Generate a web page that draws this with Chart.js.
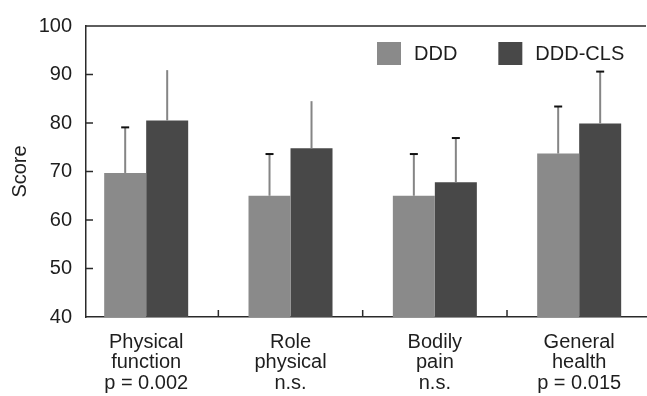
<!DOCTYPE html>
<html>
<head>
<meta charset="utf-8">
<script src="https://cdn.jsdelivr.net/npm/chart.js@4/dist/chart.umd.min.js"></script>
<style>
  html, body { margin: 0; padding: 0; background: #fff; }
  #wrap { width: 647px; height: 396px; }
</style>
</head>
<body>
<div id="wrap"><canvas id="chart" width="647" height="396"></canvas></div>
<script>
// SF-36 domain scores (mean + SD) for the two treatment groups
const categories = [['Physical', 'function'], ['Role', 'physical'], ['Bodily', 'pain'], ['General', 'health']];
const significance = ['p = 0.002', 'n.s.', 'n.s.', 'p = 0.015'];
const seriesNames = ['DDD', 'DDD-CLS'];
const dddMeans = [69.7, 65.0, 65.0, 73.7];
const dddSD = [9.4, 8.6, 8.6, 9.7];
const clsMeans = [80.5, 74.8, 67.8, 79.9];
const clsSD = [10.4, 9.7, 9.1, 10.7];
const yTicks = [40, 50, 60, 70, 80, 90, 100];

const FONT = "'Liberation Sans', Arial, sans-serif";
const TEXT = '#1e1e1e';
const AXIS = '#2a2a2a';

// error bars whose cap is not drawn: [datasetIndex, categoryIndex]
const noCap = [[1, 0], [1, 1]];

const errorBars = {
  id: 'errorBars',
  afterDatasetsDraw(chart) {
    const ctx = chart.ctx;
    const y = chart.scales.y;
    const sds = [dddSD, clsSD];
    const means = [dddMeans, clsMeans];
    chart.data.datasets.forEach((ds, d) => {
      const meta = chart.getDatasetMeta(d);
      meta.data.forEach((bar, i) => {
        const top = y.getPixelForValue(means[d][i] + sds[d][i]);
        ctx.save();
        ctx.strokeStyle = '#858585';
        ctx.lineWidth = 2;
        ctx.beginPath();
        ctx.moveTo(bar.x, bar.y);
        ctx.lineTo(bar.x, top);
        ctx.stroke();
        if (!noCap.some(([a, b]) => a === d && b === i)) {
          ctx.strokeStyle = '#111';
          ctx.lineWidth = 2;
          ctx.beginPath();
          ctx.moveTo(bar.x - 4, top);
          ctx.lineTo(bar.x + 4, top);
          ctx.stroke();
        }
        ctx.restore();
      });
    });
  }
};

// frame top line plus inward tick marks on both axes
const frame = {
  id: 'frame',
  afterDraw(chart) {
    const ctx = chart.ctx;
    const a = chart.chartArea;
    const x = chart.scales.x;
    const y = chart.scales.y;
    ctx.save();
    ctx.strokeStyle = AXIS;
    ctx.lineWidth = 1.5;
    ctx.beginPath();
    ctx.moveTo(a.left, a.top);
    ctx.lineTo(a.right, a.top);
    yTicks.slice(1, -1).forEach(v => {
      const py = y.getPixelForValue(v);
      ctx.moveTo(a.left, py);
      ctx.lineTo(a.left + 7, py);
    });
    for (let i = 0; i < categories.length - 1; i++) {
      const px = x.getPixelForValue(i + 0.5);
      ctx.moveTo(px, a.bottom);
      ctx.lineTo(px, a.bottom - 7);
    }
    ctx.stroke();
    ctx.restore();
  }
};

// legend drawn inside the plot area, top right
const insideLegend = {
  id: 'insideLegend',
  afterDraw(chart) {
    const ctx = chart.ctx;
    const a = chart.chartArea;
    ctx.save();
    ctx.font = '20px ' + FONT;
    ctx.textBaseline = 'middle';
    let cx = a.right - 269;
    const cy = a.top + 16;
    chart.data.datasets.forEach(ds => {
      ctx.fillStyle = ds.backgroundColor;
      ctx.fillRect(cx, cy, 24, 23);
      ctx.fillStyle = TEXT;
      ctx.fillText(ds.label, cx + 37, cy + 12);
      cx += 37 + ctx.measureText(ds.label).width + 41;
    });
    ctx.restore();
  }
};

const toPoints = arr => arr.map((v, i) => ({ x: i, y: v }));

new Chart(document.getElementById('chart'), {
  type: 'bar',
  data: {
    datasets: [
      { label: seriesNames[0], data: toPoints(dddMeans), backgroundColor: '#8a8a8a' },
      { label: seriesNames[1], data: toPoints(clsMeans), backgroundColor: '#484848' }
    ]
  },
  options: {
    responsive: false,
    animation: false,
    devicePixelRatio: 1,
    categoryPercentage: 0.582,
    barPercentage: 1,
    layout: { padding: { top: 23, right: 1, left: 0, bottom: 0 } },
    plugins: { legend: { display: false }, tooltip: { enabled: false } },
    scales: {
      x: {
        type: 'linear',
        offset: false,
        min: -0.417,
        max: 3.463,
        grid: { display: false, drawTicks: false, offset: false },
        border: { display: true, color: AXIS, width: 1.5 },
        afterBuildTicks(scale) {
          scale.ticks = categories.map((c, i) => ({ value: i }));
        },
        afterFit(scale) { scale.height = 79; },
        ticks: {
          autoSkip: false,
          maxRotation: 0,
          padding: 15,
          color: TEXT,
          font: { family: FONT, size: 20, lineHeight: 1.03 },
          callback: v => [...categories[v], significance[v]]
        }
      },
      y: {
        min: 40,
        max: 100,
        afterBuildTicks(scale) {
          scale.ticks = yTicks.map(v => ({ value: v }));
        },
        afterFit(scale) { scale.width = 86; },
        grid: { display: false, drawTicks: false },
        border: { display: true, color: AXIS, width: 1.5 },
        ticks: { padding: 14, color: TEXT, font: { family: FONT, size: 20 } },
        title: {
          display: true,
          text: 'Score',
          color: TEXT,
          font: { family: FONT, size: 20 },
          padding: { top: 8, bottom: 0 }
        }
      }
    }
  },
  plugins: [errorBars, frame, insideLegend]
});
</script>
</body>
</html>
